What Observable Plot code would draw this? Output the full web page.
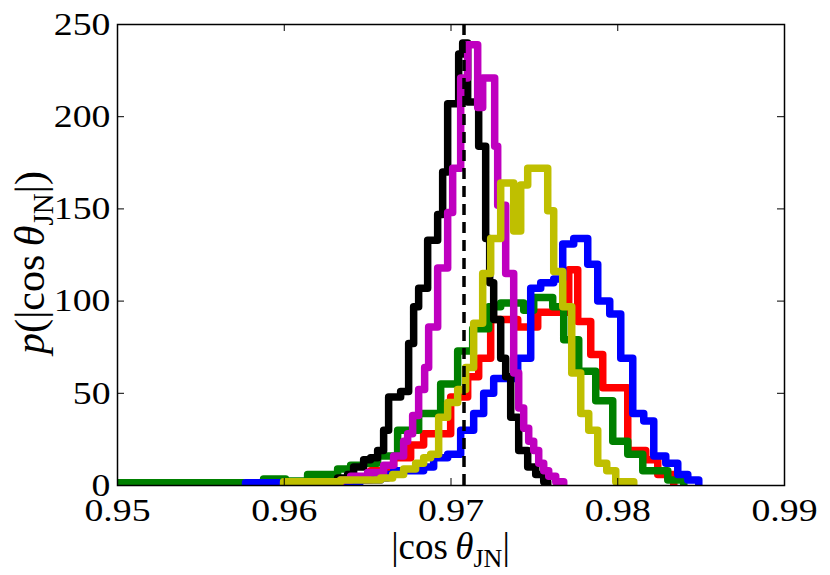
<!DOCTYPE html>
<html>
<head>
<meta charset="utf-8">
<script src="https://cdn.jsdelivr.net/npm/d3@7"></script>
<script src="https://cdn.jsdelivr.net/npm/@observablehq/plot@0.6"></script>
<style>
  body { margin: 0; background: #fff; }
  #chart { width: 830px; height: 575px; }
</style>
</head>
<body>
<div id="chart"></div>
<script>
// ---- data (bin left edges and heights) ----
const xTicks = [0.95, 0.96, 0.97, 0.98, 0.99];
const yTicks = [0, 50, 100, 150, 200, 250];
const dashX = 0.97078;

const redEdges = [0.95, 0.95186, 0.9527, 0.95348, 0.95438, 0.95588, 0.95708, 0.9604, 0.96236, 0.96518, 0.96656, 0.96758, 0.96836, 0.96998, 0.971, 0.97166, 0.97238, 0.974, 0.9752, 0.97706, 0.9776, 0.97838, 0.9791, 0.9806, 0.98168, 0.9824, 0.98336];
const redCounts = [0.5, 1.5, 0.5, 1.5, 0.5, 1.5, 1, 2, 3, 8, 15, 22, 28, 48, 59, 69, 90, 86, 94, 117, 89, 71, 53, 19, 14, 6, 0];

const greenEdges = [0.95, 0.95756, 0.95876, 0.96008, 0.9614, 0.9632, 0.96398, 0.96476, 0.9656, 0.9668, 0.96806, 0.96938, 0.9704, 0.9713, 0.97226, 0.97298, 0.97436, 0.97496, 0.9761, 0.97676, 0.97766, 0.97868, 0.9797, 0.9806, 0.9815, 0.983, 0.98396];
const greenCounts = [1.5, 1, 3.5, 2.5, 6, 9, 11, 12, 16, 30, 39, 55, 73, 85, 97, 99, 95, 102, 97, 79, 62, 46, 24, 17, 8, 3, 0];

const blueEdges = [0.95768, 0.96008, 0.96278, 0.96458, 0.96578, 0.9662, 0.96656, 0.96836, 0.96896, 0.9698, 0.97058, 0.97136, 0.97196, 0.97256, 0.974, 0.97478, 0.97538, 0.97616, 0.9767, 0.97736, 0.9782, 0.9788, 0.97952, 0.98018, 0.9809, 0.98156, 0.98216, 0.98288, 0.9836, 0.9842, 0.98486];
const blueCounts = [1.5, 1, 2, 3, 4, 6, 8, 10, 15, 17, 30, 39, 50, 58, 69, 107, 110, 112, 131, 134, 120, 100, 93, 69, 39, 35, 16, 12, 6, 3, 0];

const blackEdges = [0.96278, 0.9632, 0.9638, 0.96416, 0.96476, 0.96518, 0.9656, 0.96596, 0.96626, 0.96698, 0.96746, 0.96776, 0.96806, 0.9686, 0.9692, 0.9695, 0.9698, 0.97046, 0.9707, 0.971, 0.97166, 0.97208, 0.97232, 0.97256, 0.97298, 0.97328, 0.97358, 0.97406, 0.9746, 0.97508, 0.97556, 0.9758];
const blackCounts = [1, 4, 6, 10, 14, 15, 19, 30, 48, 51, 77, 97, 107, 133, 147, 170, 207, 234, 240, 208, 184, 134, 110, 90, 69, 59, 37, 19, 10, 6, 2, 0];

const magentaEdges = [0.96338, 0.96398, 0.965, 0.96596, 0.96656, 0.96716, 0.9674, 0.9677, 0.96806, 0.96842, 0.96866, 0.9692, 0.9698, 0.9701, 0.97058, 0.971, 0.9716, 0.9719, 0.97262, 0.9728, 0.97328, 0.97376, 0.97406, 0.97436, 0.97466, 0.97496, 0.97526, 0.97556, 0.97586, 0.97628, 0.97676];
const magentaCounts = [3, 5, 7, 11, 16, 24, 28, 38, 52, 64, 86, 118, 148, 172, 221, 239, 205, 221, 184, 152, 115, 61, 42, 31, 24, 19, 12, 8, 5, 2, 0];

const yellowEdges = [0.95996, 0.96338, 0.96578, 0.9665, 0.96716, 0.96788, 0.96836, 0.96878, 0.96926, 0.9698, 0.9704, 0.97088, 0.97136, 0.9719, 0.97238, 0.97298, 0.97376, 0.97418, 0.9746, 0.9758, 0.97616, 0.9767, 0.97724, 0.97778, 0.97826, 0.9788, 0.97934, 0.97988, 0.98096];
const yellowCounts = [2, 3, 4, 6, 9, 12, 15, 17, 37, 45, 52, 64, 88, 115, 134, 164, 138, 163, 172, 149, 116, 97, 61, 39, 30, 12, 8, 2, 0];

const series = [
  {name: "red", color: "#ff0000", edges: redEdges, counts: redCounts},
  {name: "green", color: "#008000", edges: greenEdges, counts: greenCounts},
  {name: "blue", color: "#0000ff", edges: blueEdges, counts: blueCounts},
  {name: "black", color: "#000000", edges: blackEdges, counts: blackCounts},
  {name: "magenta", color: "#bf00bf", edges: magentaEdges, counts: magentaCounts},
  {name: "yellow", color: "#bfbf00", edges: yellowEdges, counts: yellowCounts}
];

function stepData(s) {
  const pts = [{x: s.edges[0], y: 0}];
  s.edges.forEach((x, i) => pts.push({x, y: s.counts[i]}));
  return pts;
}

const W = 830, H = 575, ML = 117, MR = 46, MT = 24, MB = 90;
const frameW = W - ML - MR, frameH = H - MT - MB, tickLen = 7;
const fontFam = "'Liberation Serif', 'Times New Roman', serif";

const lineMarks = series.map(s => Plot.line(stepData(s), {
  x: "x", y: "y", curve: "step-after", stroke: s.color, strokeWidth: 7.5,
  strokeLinejoin: "round", strokeLinecap: "butt", clip: true
}));

const plot = Plot.plot({
  width: W, height: H,
  marginLeft: ML, marginRight: MR, marginTop: MT, marginBottom: MB,
  style: {fontFamily: fontFam, fontSize: "32px", background: "white", color: "black"},
  x: {domain: [0.95, 0.99]},
  y: {domain: [0, 250]},
  marks: [
    ...lineMarks,
    Plot.ruleX([dashX], {stroke: "black", strokeWidth: 3.5, strokeDasharray: "11,7"}),
    Plot.tickX(xTicks, {insetTop: frameH - tickLen, stroke: "black", strokeWidth: 1}),
    Plot.tickX(xTicks, {insetBottom: frameH - tickLen, stroke: "black", strokeWidth: 1}),
    Plot.tickY(yTicks, {insetRight: frameW - tickLen, stroke: "black", strokeWidth: 1}),
    Plot.tickY(yTicks, {insetLeft: frameW - tickLen, stroke: "black", strokeWidth: 1}),
    Plot.axisX({ticks: xTicks, tickSize: 0, tickPadding: 13, tickFormat: d3.format(".2f"), label: null, fill: "black"}),
    Plot.axisY({ticks: yTicks, tickSize: 0, tickPadding: 7, label: null, fill: "black"}),
    Plot.frame({stroke: "black", strokeWidth: 1.5})
  ]
});

document.getElementById("chart").appendChild(plot);

// widen tick labels horizontally, as in the reference
const svg = d3.select(plot);
svg.selectAll('g[aria-label="x-axis tick label"] text, g[aria-label="y-axis tick label"] text').each(function () {
  let t = this.getAttribute("transform");
  if (!t) {
    const x = this.getAttribute("x") || 0, y = this.getAttribute("y") || 0;
    this.setAttribute("x", 0); this.setAttribute("y", 0);
    t = `translate(${x},${y})`;
  }
  this.setAttribute("transform", t + " scale(1.18,1)");
});

// axis titles
const yl = svg.append("text")
  .attr("transform", `translate(44,${(MT + H - MB) / 2 + 8}) rotate(-90)`)
  .attr("text-anchor", "middle")
  .attr("fill", "black")
  .style("font-family", fontFam).style("font-size", "42px");
yl.append("tspan").style("font-style", "italic").text("p");
yl.append("tspan").text("(|cos\u2009");
yl.append("tspan").style("font-style", "italic").text("θ");
yl.append("tspan").attr("dy", 9).style("font-size", "29px").text("JN");
yl.append("tspan").attr("dy", -9).text("|)");

const xl = svg.append("text")
  .attr("transform", `translate(${ML + frameW / 2},559)`)
  .attr("text-anchor", "middle")
  .attr("fill", "black")
  .style("font-family", fontFam).style("font-size", "37px");
xl.append("tspan").text("|cos\u2009");
xl.append("tspan").style("font-style", "italic").text("θ");
xl.append("tspan").attr("dy", 8).style("font-size", "26px").text("JN");
xl.append("tspan").attr("dy", -8).text("|");
</script>
</body>
</html>
